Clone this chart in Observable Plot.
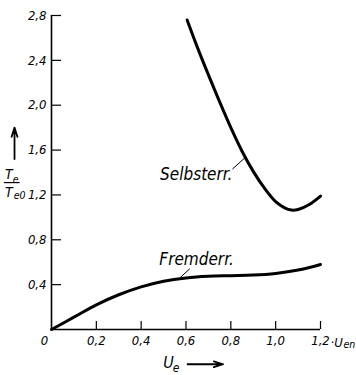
<!DOCTYPE html>
<html><head><meta charset="utf-8">
<script src="https://cdn.jsdelivr.net/npm/d3@7"></script>
<script src="https://cdn.jsdelivr.net/npm/@observablehq/plot@0.6"></script>
<style>
body{margin:0;background:#fff}
svg{display:block}
#chart svg text{font-family:"DejaVu Sans Condensed","DejaVu Sans",sans-serif;font-stretch:condensed;font-style:italic}
</style>
</head><body><div id="chart"></div>
<script>
// Fremderregung curve
const fremdX = [0, 0.1, 0.2, 0.3, 0.4, 0.5, 0.6, 0.7, 0.8, 0.9, 1.0, 1.1, 1.2];
const fremdY = [0, 0.11, 0.22, 0.31, 0.38, 0.43, 0.46, 0.475, 0.48, 0.485, 0.50, 0.53, 0.58];
// Selbsterregung curve
const selbstX = [0.605, 0.65, 0.70, 0.75, 0.80, 0.85, 0.90, 0.95, 1.00, 1.04, 1.07, 1.10, 1.15, 1.20];
const selbstY = [2.76, 2.52, 2.27, 2.03, 1.80, 1.59, 1.41, 1.26, 1.14, 1.085, 1.065, 1.07, 1.115, 1.19];
// ticks
const xTicks = [0, 0.2, 0.4, 0.6, 0.8, 1.0, 1.2];
const xTickLabels = ["0", "0,2", "0,4", "0,6", "0,8", "1,0", "1,2"];
const yTicks = [0.4, 0.8, 1.2, 1.6, 2.0, 2.4, 2.8];
const yTickLabels = ["0,4", "0,8", "1,2", "1,6", "2,0", "2,4", "2,8"];
// curve labels
const curveNames = ["Selbsterr.", "Fremderr."];
const labelX = [0.807, 0.647];
const labelY = [1.385, 0.625];
const leaderX1 = [0.807, 0.575];
const leaderY1 = [1.43, 0.465];
const leaderX2 = [0.865, 0.617];
const leaderY2 = [1.535, 0.542];

const fremd = fremdX.map((x, i) => ({x, y: fremdY[i]}));
const selbst = selbstX.map((x, i) => ({x, y: selbstY[i]}));
const labels = curveNames.map((t, i) => ({t, x: labelX[i], y: labelY[i], anchor: i === 0 ? "end" : "middle"}));
const leaders = curveNames.map((t, i) => ({x1: leaderX1[i], y1: leaderY1[i], x2: leaderX2[i], y2: leaderY2[i]}));

const fmtX = d => xTickLabels[xTicks.indexOf(d)];
const fmtY = d => yTickLabels[yTicks.indexOf(d)];

const chart = Plot.plot({
  width: 356, height: 375,
  marginLeft: 51, marginRight: 36, marginTop: 15, marginBottom: 46,
  x: {domain: [0, 1.2], label: null},
  y: {domain: [0, 2.8], label: null},
  style: {background: "#fff", color: "#000"},
  marks: [
    Plot.ruleX([0], {stroke: "#000", strokeWidth: 1.6}),
    Plot.ruleY([0], {stroke: "#000", strokeWidth: 1.6}),
    Plot.axisX({ticks: xTicks.filter(d => d > 0), tickSize: -8, text: null, strokeWidth: 1.2}),
    Plot.axisY({ticks: yTicks, tickSize: -10, text: null, strokeWidth: 1.2}),
    Plot.axisX({ticks: xTicks.filter(d => d > 0), tickSize: 0, tickPadding: 6, tickFormat: fmtX, fontSize: 13}),
    Plot.axisX({ticks: xTicks.filter(d => d === 0), tickSize: 0, tickPadding: 6, tickFormat: fmtX, fontSize: 13, dx: -7}),
    Plot.axisY({ticks: yTicks, tickSize: 0, tickPadding: 5, tickFormat: fmtY, fontSize: 13}),
    Plot.line(fremd, {x: "x", y: "y", curve: "catmull-rom", stroke: "#000", strokeWidth: 3}),
    Plot.line(selbst, {x: "x", y: "y", curve: "catmull-rom", stroke: "#000", strokeWidth: 3}),
    Plot.link(leaders, {x1: "x1", y1: "y1", x2: "x2", y2: "y2", stroke: "#000", strokeWidth: 1}),
    Plot.text(labels.filter(d => d.anchor === "end"), {x: "x", y: "y", text: "t", textAnchor: "end", fontSize: 17}),
    Plot.text(labels.filter(d => d.anchor === "middle"), {x: "x", y: "y", text: "t", fontSize: 17}),
    // unit after 1,2
    Plot.text(["·U"], {x: () => 1.2, y: () => 0, textAnchor: "start", dx: 10, dy: 13, fontSize: 13}),
    Plot.text(["en"], {x: () => 1.2, y: () => 0, textAnchor: "start", dx: 23, dy: 15, fontSize: 10.5}),
    // x axis label
    Plot.text(["U"], {x: () => 0.522, y: () => -0.30, fontSize: 16}),
    Plot.text(["e"], {x: () => 0.556, y: () => -0.345, fontSize: 12}),
    Plot.arrow([0], {x1: () => 0.607, x2: () => 0.765, y1: () => -0.31, y2: () => -0.31, stroke: "#000", strokeWidth: 1.8, headLength: 8, headAngle: 35}),
    // y axis label
    Plot.arrow([0], {x1: () => -0.165, x2: () => -0.165, y1: () => 1.52, y2: () => 1.80, stroke: "#000", strokeWidth: 1.8, headLength: 8, headAngle: 35}),
    Plot.text(["T"], {x: () => -0.19, y: () => 1.385, fontSize: 14}),
    Plot.text(["e"], {x: () => -0.16, y: () => 1.335, fontSize: 10.5}),
    Plot.ruleY([0], {x1: () => -0.21, x2: () => -0.14, y: () => 1.31, stroke: "#000", strokeWidth: 1.2}),
    Plot.text(["T"], {x: () => -0.19, y: () => 1.22, fontSize: 14}),
    Plot.text(["e0"], {x: () => -0.142, y: () => 1.19, fontSize: 10.5})
  ]
});
document.getElementById("chart").append(chart);
</script>
</body></html>
